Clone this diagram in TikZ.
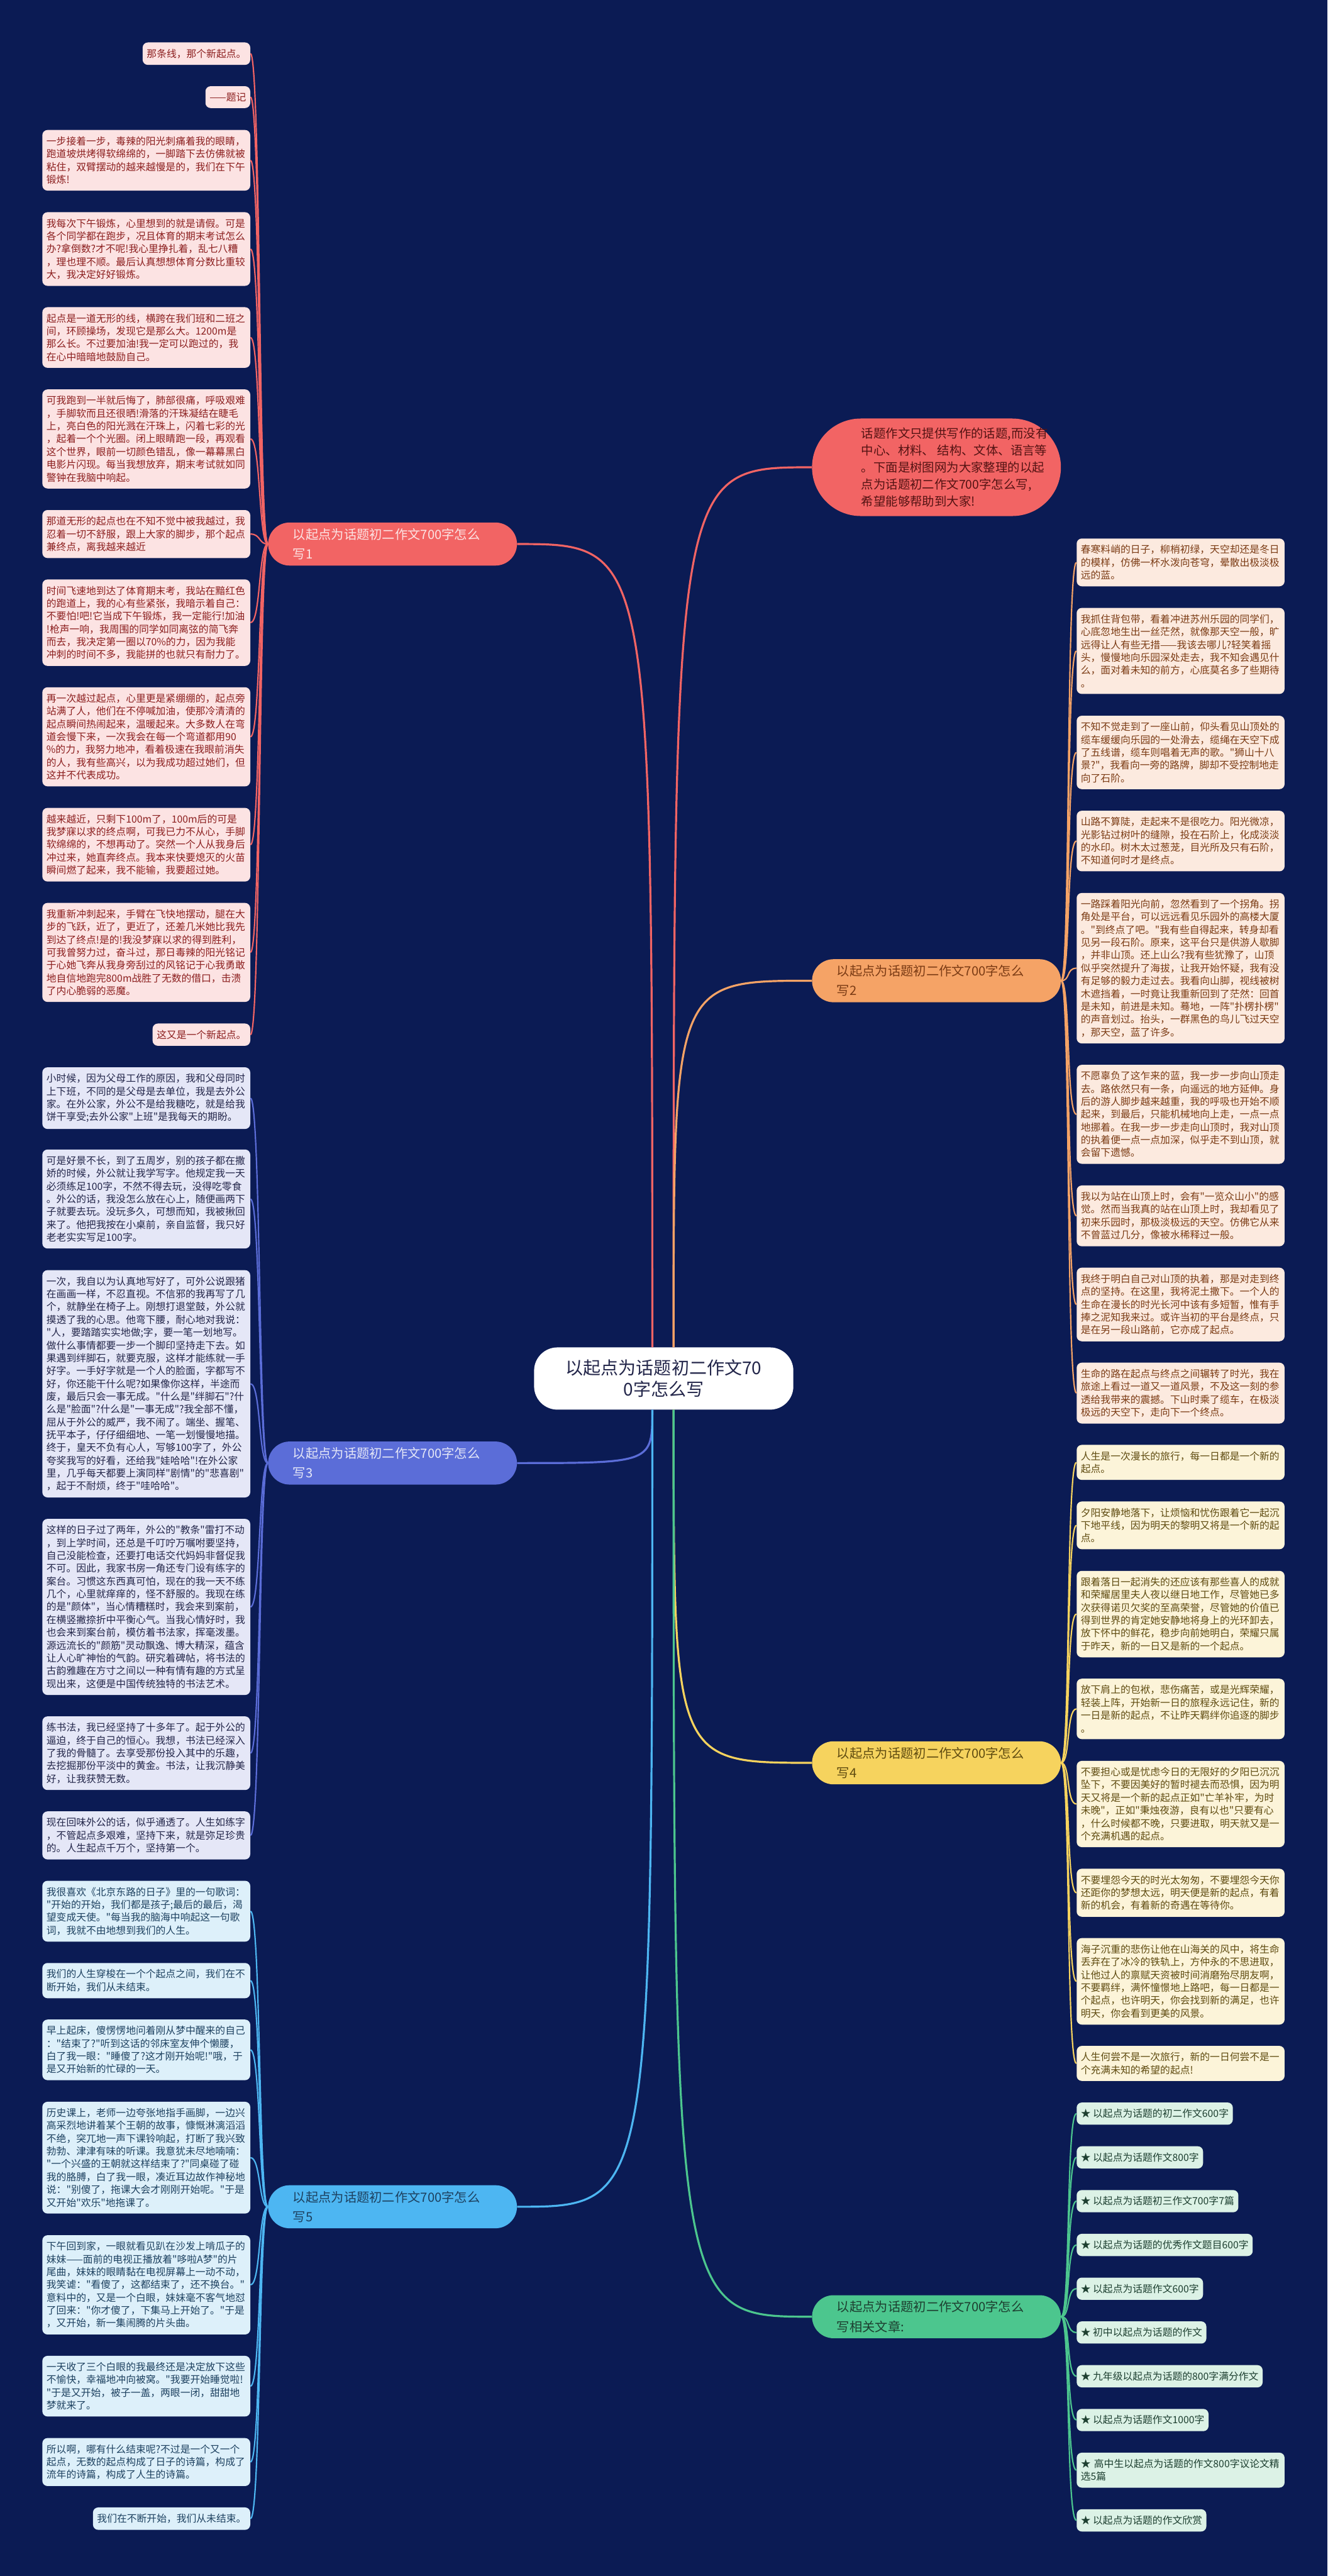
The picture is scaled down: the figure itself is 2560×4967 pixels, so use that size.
\documentclass[tikz,border=0pt]{standalone}
\usepackage{fontspec}
\newfontfamily\cjk{Noto Sans CJK SC}
\usepackage{tikz}

\definecolor{navy}{HTML}{0B1B54}
\definecolor{redA}{HTML}{F26464}
\definecolor{orangeA}{HTML}{F5A366}
\definecolor{blueA}{HTML}{5B6DD8}
\definecolor{yellowA}{HTML}{F6D35E}
\definecolor{skyA}{HTML}{4DB6F2}
\definecolor{greenA}{HTML}{4CC68E}
\definecolor{paleA}{HTML}{FCE3E3}
\definecolor{paleB}{HTML}{FCEADF}
\definecolor{paleC}{HTML}{E5E7F7}
\definecolor{paleD}{HTML}{FCF4D9}
\definecolor{paleE}{HTML}{DDF0FA}
\definecolor{paleF}{HTML}{DCF2E6}
\definecolor{inkA}{HTML}{8C1F1F}
\definecolor{inkB}{HTML}{7B3B14}
\definecolor{inkC}{HTML}{23264A}
\definecolor{inkD}{HTML}{5F4B10}
\definecolor{inkE}{HTML}{1D4160}
\definecolor{inkF}{HTML}{1D3F30}

\begin{document}
\begin{tikzpicture}[x=0.2mm, y=-0.2mm,
    leaf/.style={rounded corners=2mm, inner xsep=1.6mm, inner ysep=2.5mm, align=left,
      font=\cjk\fontsize{10.9pt}{14.05pt}\selectfont},
    wide/.style={text width=77mm},
    redleaf/.style={leaf, anchor=north east, fill=paleA, text=inkA},
    blueleaf/.style={leaf, anchor=north east, fill=paleC, text=inkC},
    skyleaf/.style={leaf, anchor=north east, fill=paleE, text=inkE},
    orangeleaf/.style={leaf, anchor=north west, fill=paleB, text=inkB},
    yellowleaf/.style={leaf, anchor=north west, fill=paleD, text=inkD},
    greenleaf/.style={leaf, anchor=north west, fill=paleF, text=inkF},
    topic/.style={rounded corners=8.3mm, minimum height=16.6mm, text width=76.8mm,
      inner xsep=9.6mm, align=left, font=\cjk\fontsize{14pt}{21.6pt}\selectfont},
    twig/.style={line width=1.5pt},
    trunk/.style={line width=2.2pt}]

  \fill[navy] (0,0) rectangle (2560,4967);

  % centre and intro
  \node[fill=white, text=inkC, rounded corners=9mm, minimum width=100mm, minimum height=24mm,
    align=center, font=\cjk\fontsize{19.35pt}{23.3pt}\selectfont] (root) at (1280, 2658)
    {以起点为话题初二作文70\\0字怎么写};
  \node[fill=redA, text=inkA!60!black, rounded corners=18.8mm, minimum height=37.6mm,
    inner xsep=1mm, font=\cjk\fontsize{13.4pt}{18.6pt}\selectfont] (intro) at (1806, 901)
    {\hspace*{18mm}\parbox{76mm}{\raggedright 话题作文只提供写作的话题,而没有\\中心、材料、 结构、文体、语言等\\。下面是树图网为大家整理的以起\\点为话题初二作文700字怎么写,\\希望能够帮助到大家!}};

  % topics
  \node[topic, fill=redA, text=paleA] (t1) at (757, 1049) {以起点为话题初二作文700字怎么\\写1};
  \node[topic, fill=orangeA, text=inkB] (t2) at (1806, 1891) {以起点为话题初二作文700字怎么\\写2};
  \node[topic, fill=blueA, text=paleC] (t3) at (757, 2821) {以起点为话题初二作文700字怎么\\写3};
  \node[topic, fill=yellowA, text=inkD] (t4) at (1806, 3399) {以起点为话题初二作文700字怎么\\写4};
  \node[topic, fill=skyA, text=inkE] (t5) at (757, 4255) {以起点为话题初二作文700字怎么\\写5};
  \node[topic, fill=greenA, text=inkF] (t6) at (1806, 4467) {以起点为话题初二作文700字怎么\\写相关文章:};

  % topic 1
  \node[redleaf] (a1) at (483, 81.5) {那条线，那个新起点。};
  \node[redleaf] (a2) at (483, 165.9) {——题记};
  \node[redleaf, wide] (a3) at (483, 250.3) {一步接着一步，毒辣的阳光刺痛着我的眼睛，\\跑道坡烘烤得软绵绵的，一脚踏下去仿佛就被\\粘住，双臂摆动的越来越慢是的，我们在下午\\锻炼!};
  \node[redleaf, wide] (a4) at (483, 408.8) {我每次下午锻炼，心里想到的就是请假。可是\\各个同学都在跑步，况且体育的期末考试怎么\\办?拿倒数?才不呢!我心里挣扎着，乱七八糟\\，理也理不顺。最后认真想想体育分数比重较\\大，我决定好好锻炼。};
  \node[redleaf, wide] (a5) at (483, 592.0) {起点是一道无形的线，横跨在我们班和二班之\\间，环顾操场，发现它是那么大。1200m是\\那么长。不过要加油!我一定可以跑过的，我\\在心中暗暗地鼓励自己。};
  \node[redleaf, wide] (a6) at (483, 750.5) {可我跑到一半就后悔了，肺部很痛，呼吸艰难\\，手脚软而且还很晒!滑落的汗珠凝结在睫毛\\上，亮白色的阳光溅在汗珠上，闪着七彩的光\\，起着一个个光圈。闭上眼睛跑一段，再观看\\这个世界，眼前一切颜色错乱，像一幕幕黑白\\电影片闪现。每当我想放弃，期末考试就如同\\警钟在我脑中响起。};
  \node[redleaf, wide] (a7) at (483, 983.1) {那道无形的起点也在不知不觉中被我越过，我\\忍着一切不舒服，跟上大家的脚步，那个起点\\兼终点，离我越来越近};
  \node[redleaf, wide] (a8) at (483, 1116.9) {时间飞速地到达了体育期末考，我站在黯红色\\的跑道上，我的心有些紧张，我暗示着自己：\\不要怕!吧!它当成下午锻炼，我一定能行!加油\\!枪声一响，我周围的同学如同离弦的简飞奔\\而去，我决定第一圈以70\%的力，因为我能\\冲刺的时间不多，我能拼的也就只有耐力了。};
  \node[redleaf, wide] (a9) at (483, 1324.8) {再一次越过起点，心里更是紧绷绷的，起点旁\\站满了人，他们在不停喊加油，使那冷清清的\\起点瞬间热闹起来，温暖起来。大多数人在弯\\道会慢下来，一次我会在每一个弯道都用90\\\%的力，我努力地冲，看着极速在我眼前消失\\的人，我有些高兴，以为我成功超过她们，但\\这并不代表成功。};
  \node[redleaf, wide] (a10) at (483, 1557.4) {越来越近，只剩下100m了，100m后的可是\\我梦寐以求的终点啊，可我已力不从心，手脚\\软绵绵的，不想再动了。突然一个人从我身后\\冲过来，她直奔终点。我本来快要熄灭的火苗\\瞬间燃了起来，我不能输，我要超过她。};
  \node[redleaf, wide] (a11) at (483, 1740.6) {我重新冲刺起来，手臂在飞快地摆动，腿在大\\步的飞跃，近了，更近了，还差几米她比我先\\到达了终点!是的!我没梦寐以求的得到胜利，\\可我曾努力过，奋斗过，那日毒辣的阳光铭记\\于心她飞奔从我身旁刮过的风铭记于心我勇敢\\地自信地跑完800m战胜了无数的借口，击溃\\了内心脆弱的恶魔。};
  \node[redleaf] (a12) at (483, 1973.2) {这又是一个新起点。};

  % topic 3
  \node[blueleaf, wide] (c1) at (483, 2057.6) {小时候，因为父母工作的原因，我和父母同时\\上下班，不同的是父母是去单位，我是去外公\\家。在外公家，外公不是给我糖吃，就是给我\\饼干享受;去外公家"上班"是我每天的期盼。};
  \node[blueleaf, wide] (c2) at (483, 2216.1) {可是好景不长，到了五周岁，别的孩子都在撒\\娇的时候，外公就让我学写字。他规定我一天\\必须练足100字，不然不得去玩，没得吃零食\\。外公的话，我没怎么放在心上，随便画两下\\子就要去玩。没玩多久，可想而知，我被揪回\\来了。他把我按在小桌前，亲自监督，我只好\\老老实实写足100字。};
  \node[blueleaf, wide] (c3) at (483, 2448.7) {一次，我自以为认真地写好了，可外公说跟猪\\在画画一样，不忍直视。不信邪的我再写了几\\个，就静坐在椅子上。刚想打退堂鼓，外公就\\摸透了我的心思。他弯下腰，耐心地对我说：\\"人，要踏踏实实地做;字，要一笔一划地写。\\做什么事情都要一步一个脚印坚持走下去。如\\果遇到绊脚石，就要克服，这样才能练就一手\\好字。一手好字就是一个人的脸面，字都写不\\好，你还能干什么呢?如果像你这样，半途而\\废，最后只会一事无成。"什么是"绊脚石"?什\\么是"脸面"?什么是"一事无成"?我全部不懂，\\屈从于外公的威严，我不闹了。端坐、握笔、\\抚平本子，仔仔细细地、一笔一划慢慢地描。\\终于，皇天不负有心人，写够100字了，外公\\夸奖我写的好看，还给我"娃哈哈"!在外公家\\里，几乎每天都要上演同样"剧情"的"悲喜剧"\\，起于不耐烦，终于"哇哈哈"。};
  \node[blueleaf, wide] (c4) at (483, 2928.3) {这样的日子过了两年，外公的"教条"雷打不动\\，到上学时间，还总是千叮咛万嘱咐要坚持，\\自己没能检查，还要打电话交代妈妈非督促我\\不可。因此，我家书房一角还专门设有练字的\\案台。习惯这东西真可怕，现在的我一天不练\\几个，心里就痒痒的，怪不舒服的。我现在练\\的是"颜体"，当心情糟糕时，我会来到案前，\\在横竖撇捺折中平衡心气。当我心情好时，我\\也会来到案台前，模仿着书法家，挥毫泼墨。\\源远流长的"颜筋"灵动飘逸、博大精深，蕴含\\让人心旷神怡的气韵。研究着碑帖，将书法的\\古韵雅趣在方寸之间以一种有情有趣的方式呈\\现出来，这便是中国传统独特的书法艺术。};
  \node[blueleaf, wide] (c5) at (483, 3309.1) {练书法，我已经坚持了十多年了。起于外公的\\逼迫，终于自己的恒心。我想，书法已经深入\\了我的骨髓了。去享受那份投入其中的乐趣，\\去挖掘那份平淡中的黄金。书法，让我沉静美\\好，让我获赞无数。};
  \node[blueleaf, wide] (c6) at (483, 3492.3) {现在回味外公的话，似乎通透了。人生如练字\\，不管起点多艰难，坚持下来，就是弥足珍贵\\的。人生起点千万个，坚持第一个。};

  % topic 5
  \node[skyleaf, wide] (e1) at (483, 3626.1) {我很喜欢《北京东路的日子》里的一句歌词：\\"开始的开始，我们都是孩子;最后的最后，渴\\望变成天使。"每当我的脑海中响起这一句歌\\词，我就不由地想到我们的人生。};
  \node[skyleaf, wide] (e2) at (483, 3784.6) {我们的人生穿梭在一个个起点之间，我们在不\\断开始，我们从未结束。};
  \node[skyleaf, wide] (e3) at (483, 3893.7) {早上起床，傻愣愣地问着刚从梦中醒来的自己\\："结束了?"听到这话的邻床室友伸个懒腰，\\白了我一眼："睡傻了?这才刚开始呢!"哦，于\\是又开始新的忙碌的一天。};
  \node[skyleaf, wide] (e4) at (483, 4052.2) {历史课上，老师一边夸张地指手画脚，一边兴\\高采烈地讲着某个王朝的故事，慷慨淋漓滔滔\\不绝，突兀地一声下课铃响起，打断了我兴致\\勃勃、津津有味的听课。我意犹未尽地喃喃：\\"一个兴盛的王朝就这样结束了?"同桌碰了碰\\我的胳膊，白了我一眼，凑近耳边故作神秘地\\说："别傻了，拖课大会才刚刚开始呢。"于是\\又开始"欢乐"地拖课了。};
  \node[skyleaf, wide] (e5) at (483, 4309.5) {下午回到家，一眼就看见趴在沙发上啃瓜子的\\妹妹——面前的电视正播放着"哆啦A梦"的片\\尾曲，妹妹的眼睛黏在电视屏幕上一动不动，\\我笑谑："看傻了，这都结束了，还不换台。"\\意料中的，又是一个白眼，妹妹毫不客气地怼\\了回来："你才傻了，下集马上开始了。"于是\\，又开始，新一集闹腾的片头曲。};
  \node[skyleaf, wide] (e6) at (483, 4542.1) {一天收了三个白眼的我最终还是决定放下这些\\不愉快，幸福地冲向被窝。"我要开始睡觉啦!\\"于是又开始，被子一盖，两眼一闭，甜甜地\\梦就来了。};
  \node[skyleaf, wide] (e7) at (483, 4700.6) {所以啊，哪有什么结束呢?不过是一个又一个\\起点，无数的起点构成了日子的诗篇，构成了\\流年的诗篇，构成了人生的诗篇。};
  \node[skyleaf] (e8) at (483, 4834.4) {我们在不断开始，我们从未结束。};

  % topic 2
  \node[orangeleaf, wide] (b1) at (2076, 1038) {春寒料峭的日子，柳梢初绿，天空却还是冬日\\的模样，仿佛一杯水泼向苍穹，晕散出极淡极\\远的蓝。};
  \node[orangeleaf, wide] (b2) at (2076, 1171.8) {我抓住背包带，看着冲进苏州乐园的同学们，\\心底忽地生出一丝茫然，就像那天空一般，旷\\远得让人有些无措——我该去哪儿?轻笑着摇\\头，慢慢地向乐园深处走去，我不知会遇见什\\么，面对着未知的前方，心底莫名多了些期待\\。};
  \node[orangeleaf, wide] (b3) at (2076, 1379.7) {不知不觉走到了一座山前，仰头看见山顶处的\\缆车缓缓向乐园的一处滑去，缆绳在天空下成\\了五线谱，缆车则唱着无声的歌。"狮山十八\\景?"，我看向一旁的路牌，脚却不受控制地走\\向了石阶。};
  \node[orangeleaf, wide] (b4) at (2076, 1562.9) {山路不算陡，走起来不是很吃力。阳光微凉，\\光影钻过树叶的缝隙，投在石阶上，化成淡淡\\的水印。树木太过葱茏，目光所及只有石阶，\\不知道何时才是终点。};
  \node[orangeleaf, wide] (b5) at (2076, 1721.4) {一路踩着阳光向前，忽然看到了一个拐角。拐\\角处是平台，可以远远看见乐园外的高楼大厦\\。"到终点了吧。"我有些自得起来，转身却看\\见另一段石阶。原来，这平台只是供游人歇脚\\，并非山顶。还上山么?我有些犹豫了，山顶\\似乎突然提升了海拔，让我开始怀疑，我有没\\有足够的毅力走过去。我看向山脚，视线被树\\木遮挡着，一时竟让我重新回到了茫然：回首\\是未知，前进是未知。蓦地，一阵"扑楞扑楞"\\的声音划过。抬头，一群黑色的鸟儿飞过天空\\，那天空，蓝了许多。};
  \node[orangeleaf, wide] (b6) at (2076, 2052.8) {不愿辜负了这乍来的蓝，我一步一步向山顶走\\去。路依然只有一条，向遥远的地方延伸。身\\后的游人脚步越来越重，我的呼吸也开始不顺\\起来，到最后，只能机械地向上走，一点一点\\地挪着。在我一步一步走向山顶时，我对山顶\\的执着便一点一点加深，似乎走不到山顶，就\\会留下遗憾。};
  \node[orangeleaf, wide] (b7) at (2076, 2285.4) {我以为站在山顶上时，会有"一览众山小"的感\\觉。然而当我真的站在山顶上时，我却看见了\\初来乐园时，那极淡极远的天空。仿佛它从来\\不曾蓝过几分，像被水稀释过一般。};
  \node[orangeleaf, wide] (b8) at (2076, 2443.9) {我终于明白自己对山顶的执着，那是对走到终\\点的坚持。在这里，我将泥土撒下。一个人的\\生命在漫长的时光长河中该有多短暂，惟有手\\捧之泥知我来过。或许当初的平台是终点，只\\是在另一段山路前，它亦成了起点。};
  \node[orangeleaf, wide] (b9) at (2076, 2627.1) {生命的路在起点与终点之间辗转了时光，我在\\旅途上看过一道又一道风景，不及这一刻的参\\透给我带来的震撼。下山时乘了缆车，在极淡\\极远的天空下，走向下一个终点。};

  % topic 4
  \node[yellowleaf, wide] (d1) at (2076, 2785.6) {人生是一次漫长的旅行，每一日都是一个新的\\起点。};
  \node[yellowleaf, wide] (d2) at (2076, 2894.7) {夕阳安静地落下，让烦恼和忧伤跟着它一起沉\\下地平线，因为明天的黎明又将是一个新的起\\点。};
  \node[yellowleaf, wide] (d3) at (2076, 3028.5) {跟着落日一起消失的还应该有那些喜人的成就\\和荣耀居里夫人夜以继日地工作，尽管她已多\\次获得诺贝欠奖的至高荣誉，尽管她的价值已\\得到世界的肯定她安静地将身上的光环卸去，\\放下怀中的鲜花，稳步向前她明白，荣耀只属\\于昨天，新的一日又是新的一个起点。};
  \node[yellowleaf, wide] (d4) at (2076, 3236.4) {放下肩上的包袱，悲伤痛苦，或是光辉荣耀，\\轻装上阵，开始新一日的旅程永远记住，新的\\一日是新的起点，不让昨天羁绊你追逐的脚步\\。};
  \node[yellowleaf, wide] (d5) at (2076, 3394.9) {不要担心或是忧虑今日的无限好的夕阳已沉沉\\坠下，不要因美好的暂时褪去而恐惧，因为明\\天又将是一个新的起点正如"亡羊补牢，为时\\未晚"，正如"秉烛夜游，良有以也"只要有心\\，什么时候都不晚，只要进取，明天就又是一\\个充满机遇的起点。};
  \node[yellowleaf, wide] (d6) at (2076, 3602.8) {不要埋怨今天的时光太匆匆，不要埋怨今天你\\还距你的梦想太远，明天便是新的起点，有着\\新的机会，有着新的奇遇在等待你。};
  \node[yellowleaf, wide] (d7) at (2076, 3736.6) {海子沉重的悲伤让他在山海关的风中，将生命\\丢弃在了冰冷的铁轨上，方仲永的不思进取，\\让他过人的禀赋天资被时间消磨殆尽朋友啊，\\不要羁绊，满怀憧憬地上路吧，每一日都是一\\个起点，也许明天，你会找到新的满足，也许\\明天，你会看到更美的风景。};
  \node[yellowleaf, wide] (d8) at (2076, 3944.5) {人生何尝不是一次旅行，新的一日何尝不是一\\个充满未知的希望的起点!};

  % topic 6
  \node[greenleaf] (f1) at (2076, 4053.6) {★ 以起点为话题的初二作文600字};
  \node[greenleaf] (f2) at (2076, 4138.0) {★ 以起点为话题作文800字};
  \node[greenleaf] (f3) at (2076, 4222.4) {★ 以起点为话题初三作文700字7篇};
  \node[greenleaf] (f4) at (2076, 4306.8) {★ 以起点为话题的优秀作文题目600字};
  \node[greenleaf] (f5) at (2076, 4391.2) {★ 以起点为话题作文600字};
  \node[greenleaf] (f6) at (2076, 4475.6) {★ 初中以起点为话题的作文};
  \node[greenleaf] (f7) at (2076, 4560.0) {★ 九年级以起点为话题的800字满分作文};
  \node[greenleaf] (f8) at (2076, 4644.4) {★ 以起点为话题作文1000字};
  \node[greenleaf, wide] (f9) at (2076, 4728.8) {★ 高中生以起点为话题的作文800字议论文精\\选5篇};
  \node[greenleaf] (f10) at (2076, 4837.9) {★ 以起点为话题的作文欣赏};

  % trunk lines
  \coordinate (upl) at ([xshift=-4.4mm]root.north);
  \coordinate (upr) at ([xshift=3.8mm]root.north);
  \coordinate (dnl) at ([xshift=-4.4mm]root.south);
  \coordinate (dnr) at ([xshift=3.8mm]root.south);
  \draw[trunk, redA] (upl) .. controls (upl |- t1.east) .. (t1.east);
  \draw[trunk, redA] (upr) .. controls (upr |- intro.west) .. (intro.west);
  \draw[trunk, orangeA] (upr) .. controls (upr |- t2.west) .. (t2.west);
  \draw[trunk, blueA] (dnl) .. controls (dnl |- t3.east) .. (t3.east);
  \draw[trunk, yellowA] (dnr) .. controls (dnr |- t4.west) .. (t4.west);
  \draw[trunk, skyA] (dnl) .. controls (dnl |- t5.east) .. (t5.east);
  \draw[trunk, greenA] (dnr) .. controls (dnr |- t6.west) .. (t6.west);

  % twigs, left side
  \draw[twig, redA] (t1.west) .. controls +(-18,0) and +(20,0) .. (a1.east);
  \draw[twig, redA] (t1.west) .. controls +(-18,0) and +(20,0) .. (a2.east);
  \draw[twig, redA] (t1.west) .. controls +(-18,0) and +(20,0) .. (a3.east);
  \draw[twig, redA] (t1.west) .. controls +(-18,0) and +(20,0) .. (a4.east);
  \draw[twig, redA] (t1.west) .. controls +(-18,0) and +(20,0) .. (a5.east);
  \draw[twig, redA] (t1.west) .. controls +(-18,0) and +(20,0) .. (a6.east);
  \draw[twig, redA] (t1.west) .. controls +(-18,0) and +(20,0) .. (a7.east);
  \draw[twig, redA] (t1.west) .. controls +(-18,0) and +(20,0) .. (a8.east);
  \draw[twig, redA] (t1.west) .. controls +(-18,0) and +(20,0) .. (a9.east);
  \draw[twig, redA] (t1.west) .. controls +(-18,0) and +(20,0) .. (a10.east);
  \draw[twig, redA] (t1.west) .. controls +(-18,0) and +(20,0) .. (a11.east);
  \draw[twig, redA] (t1.west) .. controls +(-18,0) and +(20,0) .. (a12.east);
  \draw[twig, blueA] (t3.west) .. controls +(-18,0) and +(20,0) .. (c1.east);
  \draw[twig, blueA] (t3.west) .. controls +(-18,0) and +(20,0) .. (c2.east);
  \draw[twig, blueA] (t3.west) .. controls +(-18,0) and +(20,0) .. (c3.east);
  \draw[twig, blueA] (t3.west) .. controls +(-18,0) and +(20,0) .. (c4.east);
  \draw[twig, blueA] (t3.west) .. controls +(-18,0) and +(20,0) .. (c5.east);
  \draw[twig, blueA] (t3.west) .. controls +(-18,0) and +(20,0) .. (c6.east);
  \draw[twig, skyA] (t5.west) .. controls +(-18,0) and +(20,0) .. (e1.east);
  \draw[twig, skyA] (t5.west) .. controls +(-18,0) and +(20,0) .. (e2.east);
  \draw[twig, skyA] (t5.west) .. controls +(-18,0) and +(20,0) .. (e3.east);
  \draw[twig, skyA] (t5.west) .. controls +(-18,0) and +(20,0) .. (e4.east);
  \draw[twig, skyA] (t5.west) .. controls +(-18,0) and +(20,0) .. (e5.east);
  \draw[twig, skyA] (t5.west) .. controls +(-18,0) and +(20,0) .. (e6.east);
  \draw[twig, skyA] (t5.west) .. controls +(-18,0) and +(20,0) .. (e7.east);
  \draw[twig, skyA] (t5.west) .. controls +(-18,0) and +(20,0) .. (e8.east);

  % twigs, right side
  \draw[twig, orangeA] (t2.east) .. controls +(18,0) and +(-20,0) .. (b1.west);
  \draw[twig, orangeA] (t2.east) .. controls +(18,0) and +(-20,0) .. (b2.west);
  \draw[twig, orangeA] (t2.east) .. controls +(18,0) and +(-20,0) .. (b3.west);
  \draw[twig, orangeA] (t2.east) .. controls +(18,0) and +(-20,0) .. (b4.west);
  \draw[twig, orangeA] (t2.east) .. controls +(18,0) and +(-20,0) .. (b5.west);
  \draw[twig, orangeA] (t2.east) .. controls +(18,0) and +(-20,0) .. (b6.west);
  \draw[twig, orangeA] (t2.east) .. controls +(18,0) and +(-20,0) .. (b7.west);
  \draw[twig, orangeA] (t2.east) .. controls +(18,0) and +(-20,0) .. (b8.west);
  \draw[twig, orangeA] (t2.east) .. controls +(18,0) and +(-20,0) .. (b9.west);
  \draw[twig, yellowA] (t4.east) .. controls +(18,0) and +(-20,0) .. (d1.west);
  \draw[twig, yellowA] (t4.east) .. controls +(18,0) and +(-20,0) .. (d2.west);
  \draw[twig, yellowA] (t4.east) .. controls +(18,0) and +(-20,0) .. (d3.west);
  \draw[twig, yellowA] (t4.east) .. controls +(18,0) and +(-20,0) .. (d4.west);
  \draw[twig, yellowA] (t4.east) .. controls +(18,0) and +(-20,0) .. (d5.west);
  \draw[twig, yellowA] (t4.east) .. controls +(18,0) and +(-20,0) .. (d6.west);
  \draw[twig, yellowA] (t4.east) .. controls +(18,0) and +(-20,0) .. (d7.west);
  \draw[twig, yellowA] (t4.east) .. controls +(18,0) and +(-20,0) .. (d8.west);
  \draw[twig, greenA] (t6.east) .. controls +(18,0) and +(-20,0) .. (f1.west);
  \draw[twig, greenA] (t6.east) .. controls +(18,0) and +(-20,0) .. (f2.west);
  \draw[twig, greenA] (t6.east) .. controls +(18,0) and +(-20,0) .. (f3.west);
  \draw[twig, greenA] (t6.east) .. controls +(18,0) and +(-20,0) .. (f4.west);
  \draw[twig, greenA] (t6.east) .. controls +(18,0) and +(-20,0) .. (f5.west);
  \draw[twig, greenA] (t6.east) .. controls +(18,0) and +(-20,0) .. (f6.west);
  \draw[twig, greenA] (t6.east) .. controls +(18,0) and +(-20,0) .. (f7.west);
  \draw[twig, greenA] (t6.east) .. controls +(18,0) and +(-20,0) .. (f8.west);
  \draw[twig, greenA] (t6.east) .. controls +(18,0) and +(-20,0) .. (f9.west);
  \draw[twig, greenA] (t6.east) .. controls +(18,0) and +(-20,0) .. (f10.west);
\end{tikzpicture}
\end{document}
